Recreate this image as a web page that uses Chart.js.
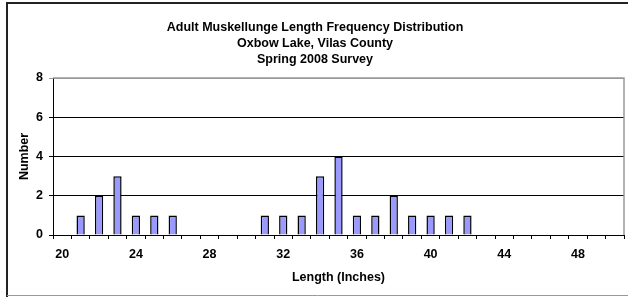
<!DOCTYPE html>
<html>
<head>
<meta charset="utf-8">
<script src="https://cdn.jsdelivr.net/npm/chart.js@4/dist/chart.umd.min.js"></script>
<style>
  html, body { margin: 0; padding: 0; background: #fff; }
  #wrap { width: 628px; height: 297px; position: relative; }
</style>
</head>
<body>
<div id="wrap"><canvas id="chart" width="628" height="297"></canvas></div>
<script>
// Comprimentos (polegadas) - uma categoria por polegada
const lengths = [20, 21, 22, 23, 24, 25, 26, 27, 28, 29, 30, 31, 32, 33, 34, 35,
                 36, 37, 38, 39, 40, 41, 42, 43, 44, 45, 46, 47, 48, 49, 50];
// Número de peixes por comprimento
const counts = [0, 1, 2, 3, 1, 1, 1, 0, 0, 0, 0, 1, 1, 1, 3, 4,
                1, 1, 2, 1, 1, 1, 1, 0, 0, 0, 0, 0, 0, 0, 0];
const titleLines = ['Adult Muskellunge Length Frequency Distribution', 'Oxbow Lake, Vilas County', 'Spring 2008 Survey'];
const yTicks = [0, 2, 4, 6, 8];

const fontFamily = '"Liberation Sans", Arial, sans-serif';
const fontSize = 12.5;

// Moldura externa e borda da área do gráfico
const framePlugin = {
    id: 'frame',
    beforeDraw(chart) {
        const ctx = chart.ctx;
        ctx.save();
        ctx.fillStyle = '#fff';
        ctx.fillRect(0, 0, chart.width, chart.height);
        ctx.strokeStyle = '#222';
        ctx.lineWidth = 2;
        ctx.beginPath();
        ctx.moveTo(7, chart.height);
        ctx.lineTo(7, 3);
        ctx.lineTo(chart.width, 3);
        ctx.stroke();
        ctx.strokeStyle = '#999';
        ctx.lineWidth = 1;
        ctx.beginPath();
        ctx.moveTo(7, chart.height - 1.5);
        ctx.lineTo(chart.width, chart.height - 1.5);
        ctx.stroke();
        ctx.restore();
    },
    afterDatasetsDraw(chart) {
        const a = chart.chartArea;
        const ctx = chart.ctx;
        ctx.save();
        ctx.strokeStyle = '#999';
        ctx.lineWidth = 1.5;
        ctx.beginPath();
        ctx.moveTo(a.left, a.top);
        ctx.lineTo(a.right, a.top);
        ctx.lineTo(a.right, a.bottom);
        ctx.stroke();
        ctx.restore();
    }
};

const ctx = document.getElementById('chart').getContext('2d');
const chart = new Chart(ctx, {
    type: 'bar',
    data: {
        labels: lengths,
        datasets: [{
            data: counts,
            backgroundColor: '#9999FF',
            borderColor: '#000',
            borderWidth: 1.5,
            categoryPercentage: 1,
            barPercentage: 0.45
        }]
    },
    options: {
        responsive: false,
        animation: false,
        layout: { padding: { left: 6, right: 4, top: 10, bottom: 6 } },
        plugins: {
            legend: { display: false },
            tooltip: { enabled: false },
            title: {
                display: true,
                text: titleLines,
                color: '#000',
                font: { family: fontFamily, size: fontSize, weight: 'bold', lineHeight: 16 / fontSize },
                padding: { top: 10, bottom: 10 }
            }
        },
        scales: {
            x: {
                offset: true,
                afterFit: scale => { scale.height = 56; },
                grid: {
                    offset: true,
                    drawOnChartArea: false,
                    drawTicks: true,
                    tickLength: 4,
                    color: '#000'
                },
                border: { color: '#000', width: 1 },
                ticks: {
                    autoSkip: false,
                    maxRotation: 0,
                    padding: 8,
                    color: '#000',
                    font: { family: fontFamily, size: fontSize, weight: 'bold' },
                    callback: function (value, index) {
                        return index % 4 === 0 ? String(lengths[index]) : '';
                    }
                },
                title: {
                    display: true,
                    text: 'Length (Inches)',
                    color: '#000',
                    font: { family: fontFamily, size: fontSize, weight: 'bold' },
                    padding: { top: 8, bottom: 6 }
                }
            },
            y: {
                min: 0,
                max: 8,
                afterFit: scale => { scale.width = 47; },
                afterBuildTicks: scale => { scale.ticks = yTicks.map(v => ({ value: v })); },
                grid: {
                    tickLength: 4,
                    color: c => (c.tick && c.tick.value === 8 ? '#999' : '#000')
                },
                border: { color: '#000', width: 1 },
                ticks: {
                    padding: 6,
                    color: '#000',
                    font: { family: fontFamily, size: fontSize, weight: 'bold' }
                },
                title: {
                    display: true,
                    text: 'Number',
                    color: '#000',
                    font: { family: fontFamily, size: fontSize, weight: 'bold' },
                    padding: { top: 11, bottom: 4 }
                }
            }
        }
    },
    plugins: [framePlugin]
});
</script>
</body>
</html>
